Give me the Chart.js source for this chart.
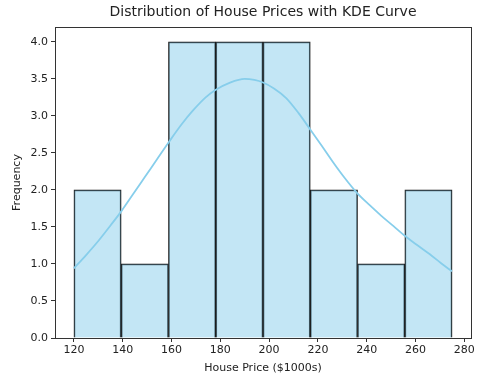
<!DOCTYPE html>
<html>
<head>
<meta charset="utf-8">
<script src="https://cdn.jsdelivr.net/npm/chart.js@4/dist/chart.umd.min.js"></script>
<style>
html,body{margin:0;padding:0;background:#fff;}
canvas{display:block;}
</style>
</head>
<body>
<canvas id="c" width="502" height="379"></canvas>
<script>
// Histogram bins (left edges) and last right edge, in $1000s
const binStarts = [120, 139.375, 158.75, 178.125, 197.5, 216.875, 236.25, 255.625];
const binEnd = 275;
const counts = [2, 1, 4, 4, 4, 2, 1, 2];

// KDE curve points
const kdeX = [120, 125, 130, 135, 139.4, 144, 149, 154, 159, 164, 169, 174, 178, 184, 190, 194, 197.5, 202, 207, 212, 217, 221.5, 226.3, 231, 236, 241, 246, 251, 255.6, 260.5, 265.9, 270.5, 275];
const kdeY = [0.94, 1.12, 1.31, 1.52, 1.71, 1.93, 2.17, 2.41, 2.65, 2.88, 3.08, 3.25, 3.35, 3.45, 3.50, 3.485, 3.45, 3.37, 3.24, 3.04, 2.81, 2.60, 2.37, 2.16, 1.96, 1.80, 1.65, 1.51, 1.38, 1.26, 1.13, 1.01, 0.90];

const xTicks = [120, 140, 160, 180, 200, 220, 240, 260, 280];
const yTicks = [0.0, 0.5, 1.0, 1.5, 2.0, 2.5, 3.0, 3.5, 4.0];

const title = 'Distribution of House Prices with KDE Curve';
const xLabel = 'House Price ($1000s)';
const yLabel = 'Frequency';

const binEdges = binStarts.concat([binEnd]);
const histData = counts.map((c, i) => ({x: (binEdges[i] + binEdges[i + 1]) / 2, y: c}));
const kdeData = kdeX.map((x, i) => ({x: x, y: kdeY[i]}));

const FONT = "'DejaVu Sans', sans-serif";
const TXT = '#222';

const framePlugin = {
  id: 'frame',
  afterDatasetsDraw(chart) {
    const a = chart.chartArea, ctx = chart.ctx;
    ctx.save();
    ctx.strokeStyle = '#333';
    ctx.lineWidth = 1;
    ctx.strokeRect(Math.round(a.left) + 0.5, Math.round(a.top) + 0.5, Math.round(a.right - a.left), Math.round(a.bottom - a.top));
    ctx.restore();
  }
};

new Chart(document.getElementById('c'), {
  type: 'bar',
  data: {
    datasets: [
      {
        type: 'line',
        data: kdeData,
        borderColor: '#87CEEB',
        borderWidth: 1.8,
        pointRadius: 0,
        cubicInterpolationMode: 'monotone',
        fill: false,
        order: 1
      },
      {
        type: 'bar',
        data: histData,
        backgroundColor: 'rgba(135,206,235,0.5)',
        borderColor: '#1a1a1a',
        borderWidth: 1,
        barPercentage: 1,
        categoryPercentage: 1,
        grouped: false,
        order: 2
      }
    ]
  },
  options: {
    responsive: false,
    animation: false,
    layout: {padding: {left: 0, right: 31, top: 0, bottom: 0}},
    plugins: {
      legend: {display: false},
      tooltip: {enabled: false},
      title: {
        display: true,
        fullSize: false,
        text: title,
        color: TXT,
        font: {family: FONT, size: 14, weight: 'normal'},
        padding: {top: 4, bottom: 6.2}
      }
    },
    scales: {
      x: {
        type: 'linear',
        offset: false,
        min: 112.25,
        max: 282.75,
        afterBuildTicks: s => { s.ticks = xTicks.map(v => ({value: v})); },
        afterFit: s => { s.height = 41; },
        grid: {offset: false, drawOnChartArea: false, drawTicks: true, tickLength: 4, color: '#333'},
        border: {display: false},
        ticks: {color: TXT, font: {family: FONT, size: 11}, padding: 2, maxRotation: 0, autoSkip: false},
        title: {display: true, text: xLabel, color: TXT, font: {family: FONT, size: 11}, padding: {top: 4, bottom: 4}}
      },
      y: {
        type: 'linear',
        min: 0,
        max: 4.2,
        afterBuildTicks: s => { s.ticks = yTicks.map(v => ({value: v})); },
        afterFit: s => { s.width = 55; },
        grid: {drawOnChartArea: false, drawTicks: true, tickLength: 4, color: '#333'},
        border: {display: false},
        ticks: {color: TXT, font: {family: FONT, size: 11}, padding: 3, autoSkip: false, callback: v => Number(v).toFixed(1)},
        title: {display: true, text: yLabel, color: TXT, font: {family: FONT, size: 11}, padding: {top: 11, bottom: 11}}
      }
    }
  },
  plugins: [framePlugin]
});
</script>
</body>
</html>
